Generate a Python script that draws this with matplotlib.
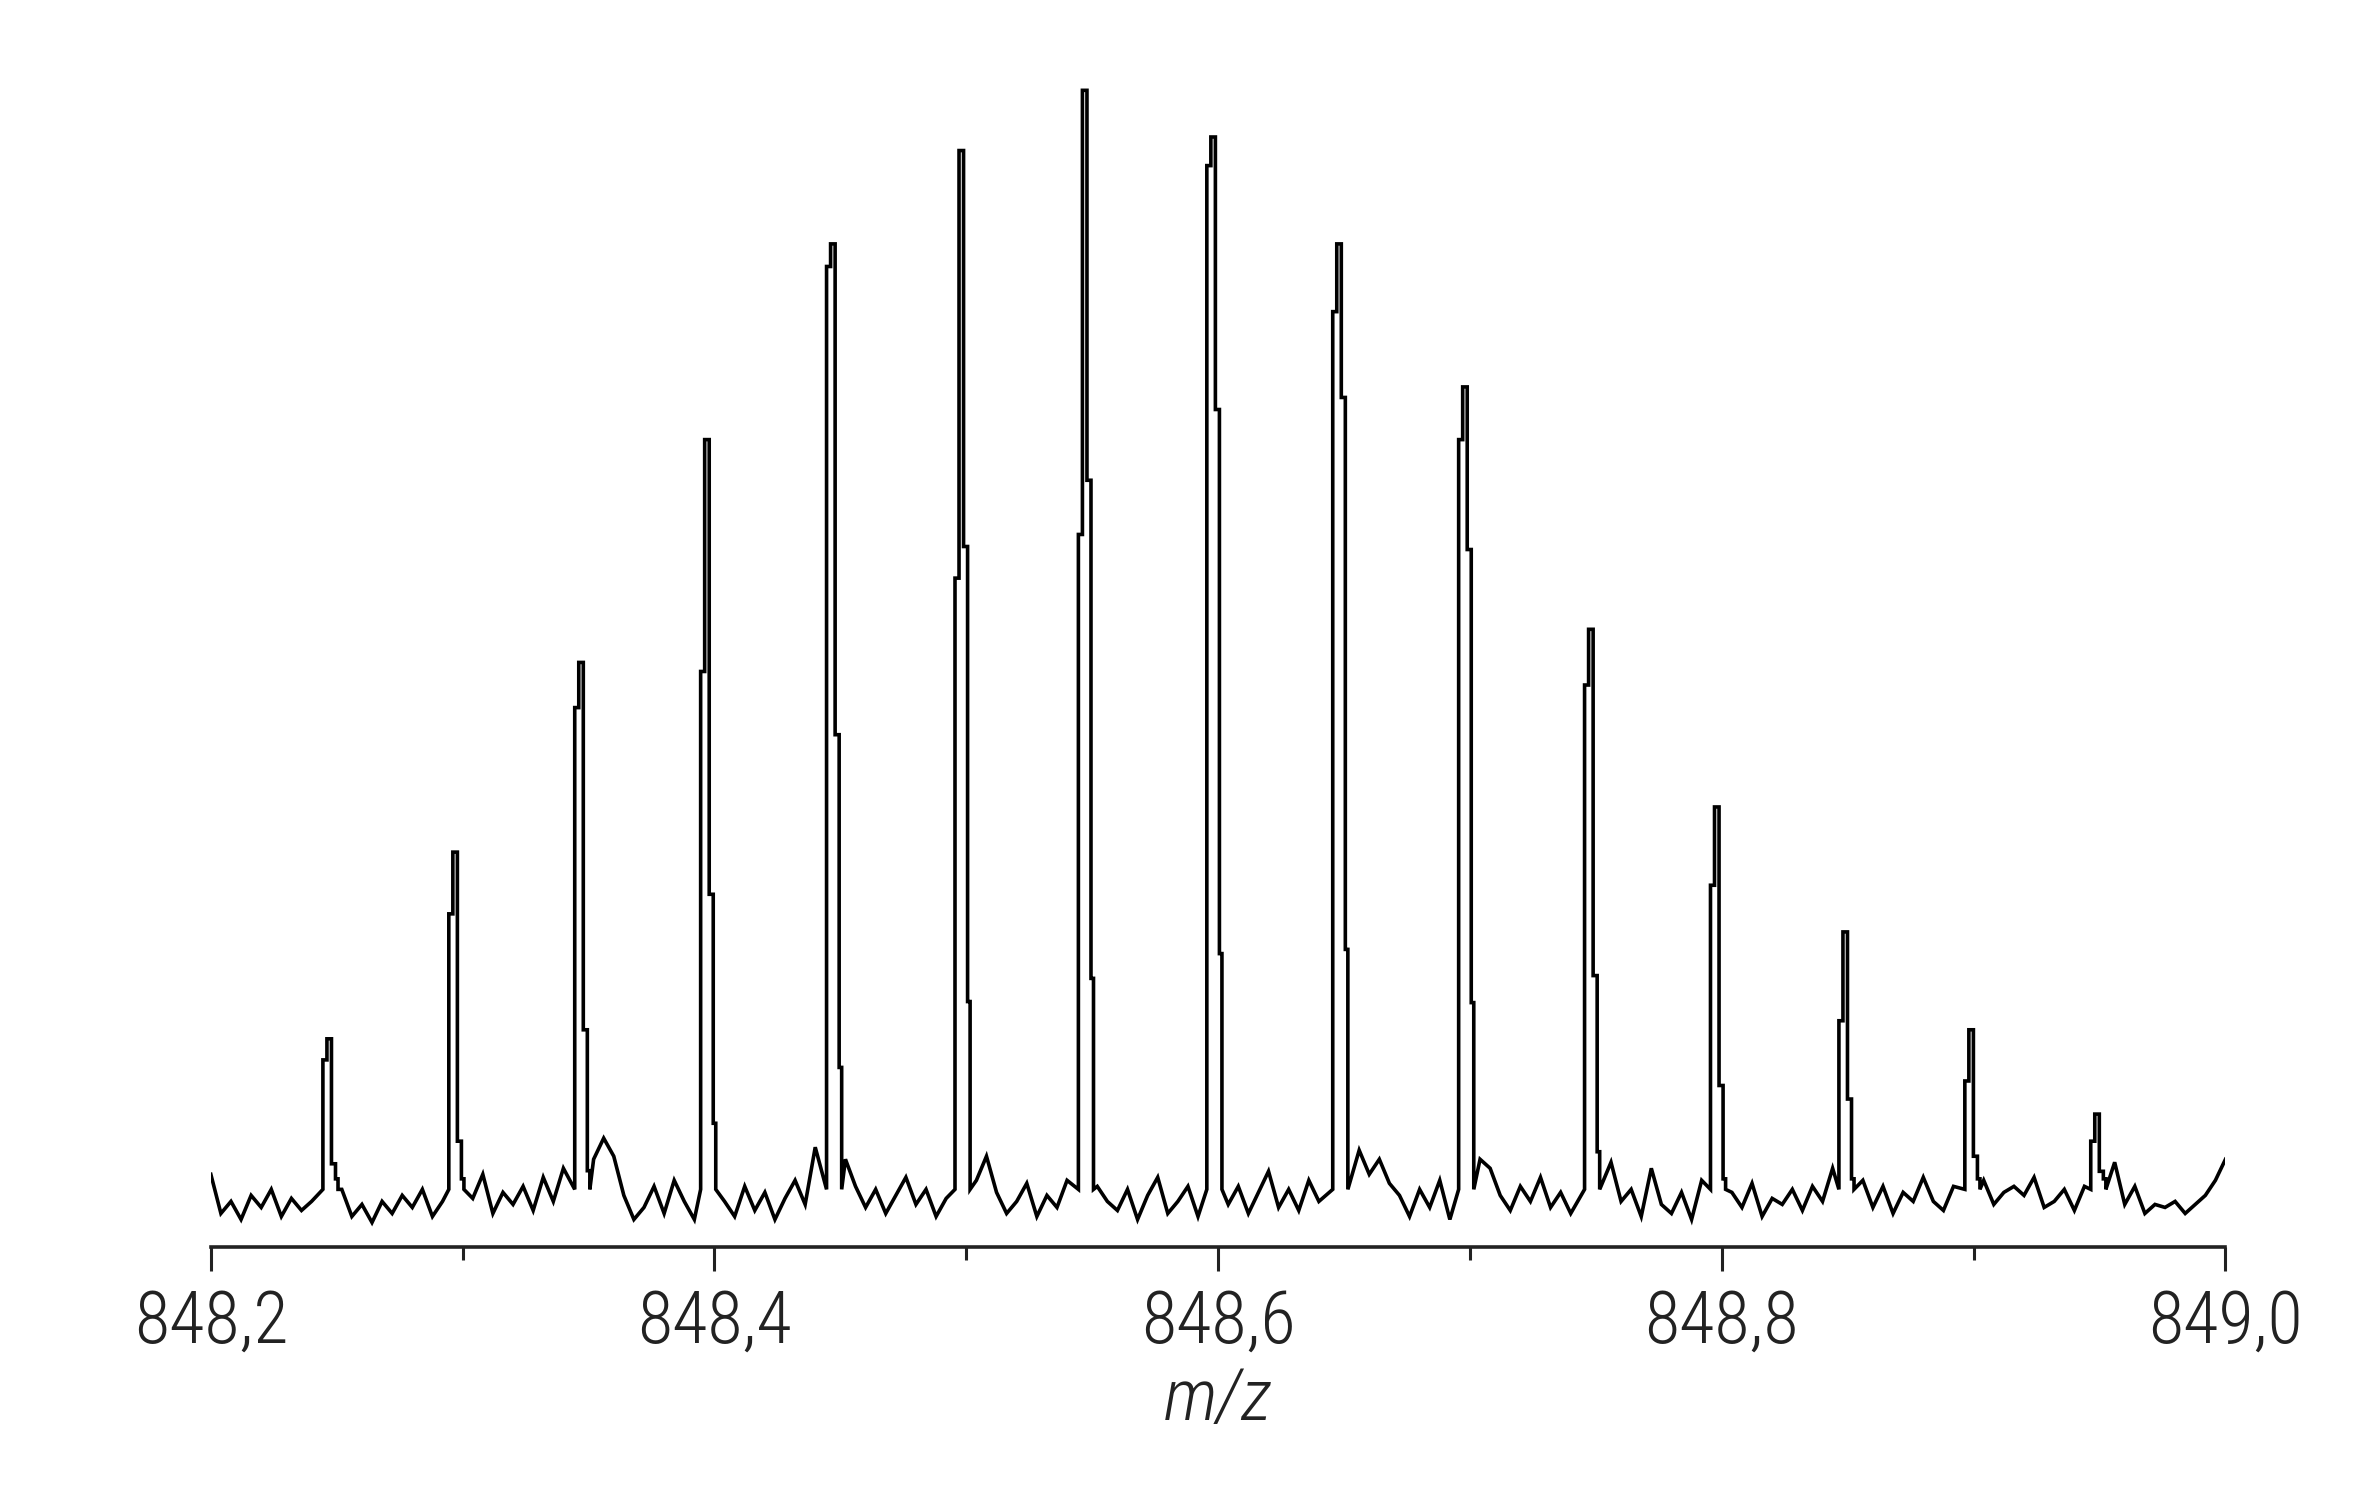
import numpy as np
import matplotlib.pyplot as plt
from matplotlib import font_manager
from matplotlib.ticker import MultipleLocator, FuncFormatter

# pick the narrowest installed sans we can find
available = {f.name for f in font_manager.fontManager.ttflist}
NARROW = [n for n in ["Liberation Sans Narrow", "Arial Narrow", "DejaVu Sans Condensed",
                      "Roboto Condensed", "Open Sans Condensed"] if n in available]
plt.rcParams["font.family"] = NARROW + ["DejaVu Sans"]

MZ_MIN, MZ_MAX = 848.2, 849.0

# isotope peaks: centre, apex height, left shoulder, right shoulder
PEAK_MZ = [848.247, 848.297, 848.347, 848.397, 848.447, 848.498, 848.547, 848.598,
           848.648, 848.698, 848.748, 848.798, 848.849, 848.899, 848.949]
PEAK_HEIGHT = [138, 262, 388, 536, 666, 728, 768, 737, 666, 571, 410, 292, 209, 144, 88]
PEAK_LEFT = [124, 221, 358, 382, 651, 444, 473, 718, 621, 536, 373, 240, 150, 110, 70]
PEAK_RIGHT = [55, 70, 144, 234, 340, 465, 509, 556, 564, 463, 180, 107, 98, 60, 50]

# baseline noise sampled every 0.004 m/z from 848.200
NOISE_STEP = 0.004
NOISE = [
    48, 22, 30, 18, 34, 26, 38, 20, 32, 24,
    30, 36, 40, 38, 20, 28, 16, 30, 22, 34,
    26, 38, 20, 30, 42, 24, 32, 48, 22, 36,
    28, 40, 24, 46, 30, 52, 44, 60, 58, 72,
    60, 34, 18, 26, 40, 22, 44, 30, 18, 46,
    50, 30, 20, 40, 24, 36, 18, 32, 44, 28,
    66, 80, 70, 58, 40, 26, 38, 22, 34, 46,
    28, 38, 20, 32, 50, 26, 44, 60, 36, 22,
    30, 42, 20, 34, 26, 44, 52, 60, 40, 30,
    24, 38, 18, 34, 46, 22, 30, 40, 20, 34,
    48, 28, 40, 22, 36, 50, 26, 38, 24, 44,
    30, 40, 52, 70, 64, 48, 58, 42, 34, 20,
    38, 26, 44, 18, 30, 60, 58, 52, 34, 24,
    40, 30, 46, 26, 36, 22, 30, 44, 60, 56,
    30, 38, 20, 52, 28, 22, 36, 18, 44, 30,
    52, 36, 26, 42, 20, 32, 28, 38, 24, 40,
    30, 52, 60, 34, 44, 26, 40, 22, 36, 30,
    46, 30, 24, 40, 48, 32, 44, 28, 36, 40,
    34, 46, 26, 30, 38, 24, 40, 44, 70, 56,
    28, 40, 22, 28, 26, 30, 22, 28, 34, 44,
    58,
]


def build_trace():
    noise_mz = MZ_MIN + NOISE_STEP * np.arange(len(NOISE))
    pts = []
    for x, y in zip(noise_mz, NOISE):
        if min(abs(x - c) for c in PEAK_MZ) > 0.0042:
            pts.append((x, 0, y))
    for c, h, l, r in zip(PEAK_MZ, PEAK_HEIGHT, PEAK_LEFT, PEAK_RIGHT):
        r2 = max(r * 0.35, 45)
        block = [(c - 0.0025, 38), (c - 0.0025, l), (c - 0.0009, l), (c - 0.0009, h),
                 (c + 0.0009, h), (c + 0.0009, r), (c + 0.0025, r), (c + 0.0025, r2),
                 (c + 0.0035, r2), (c + 0.0035, 38)]
        for k, (x, y) in enumerate(block):
            pts.append((x, k, y))
    pts.sort(key=lambda p: (round(p[0], 6), p[1]))
    return np.array([p[0] for p in pts]), np.array([p[2] for p in pts])


mz, intensity = build_trace()

fig = plt.figure(figsize=(23.61, 15.01), dpi=100)
ax = fig.add_axes([0.0893, 0.1695, 0.8533, 0.8305])
ax.plot(mz, intensity, color="black", lw=2.6, solid_joinstyle="miter")

ax.set_xlim(MZ_MIN, MZ_MAX)
ax.set_ylim(0, 828)
for side in ["top", "right", "left"]:
    ax.spines[side].set_visible(False)
ax.spines["bottom"].set_linewidth(2.6)
ax.spines["bottom"].set_color("#222222")
ax.set_yticks([])

ax.xaxis.set_major_locator(MultipleLocator(0.2))
ax.xaxis.set_minor_locator(MultipleLocator(0.1))
ax.xaxis.set_major_formatter(FuncFormatter(lambda v, p: f"{v:.1f}".replace(".", ",")))
ax.tick_params(axis="x", which="major", length=17, width=2.2, pad=13,
               labelsize=52, colors="#222222")
ax.tick_params(axis="x", which="minor", length=9, width=2.2, colors="#222222")
for lab in ax.get_xticklabels():
    lab.set_fontstretch("condensed")
    lab.set_fontweight("light")

ax.set_xlabel("m/z", fontsize=52, style="italic", color="#222222", labelpad=6,
              fontstretch="condensed", fontweight="light")

fig.savefig("out.png", dpi=100, facecolor="white")
